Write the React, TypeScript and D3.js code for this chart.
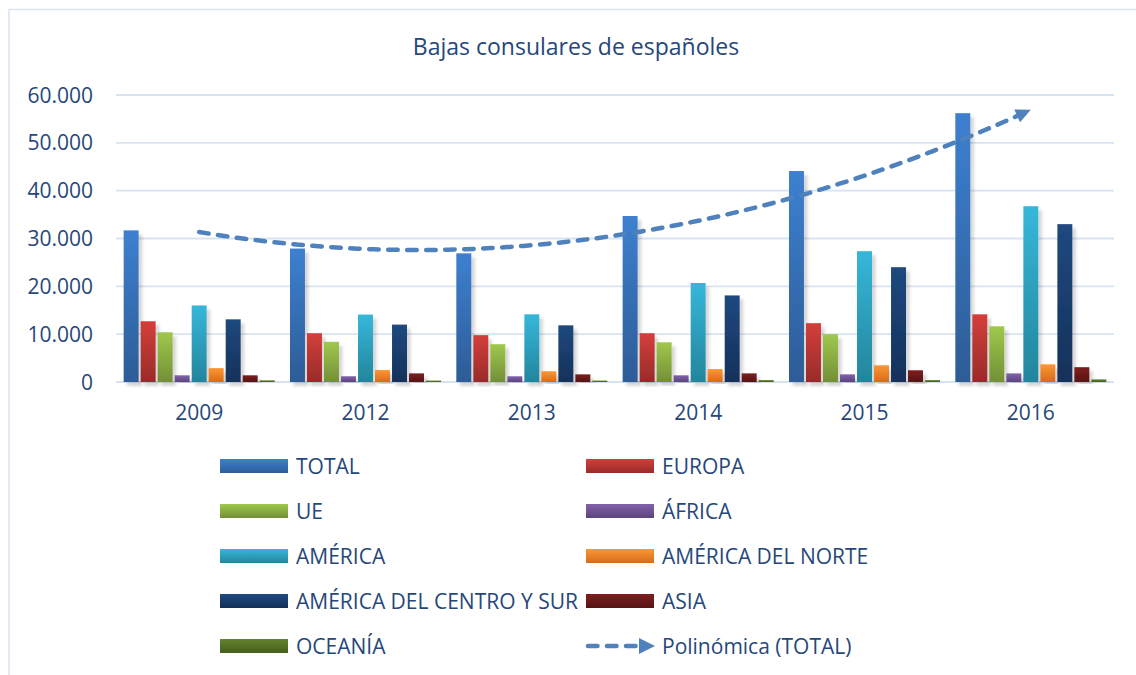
import React from 'react';
import * as d3 from 'd3';

const years = ['2009', '2012', '2013', '2014', '2015', '2016'];
const seriesNames = ['TOTAL', 'EUROPA', 'UE', 'ÁFRICA', 'AMÉRICA', 'AMÉRICA DEL NORTE', 'AMÉRICA DEL CENTRO Y SUR', 'ASIA', 'OCEANÍA'];

const total = [31700, 27900, 26900, 34700, 44100, 56200];
const europa = [12700, 10200, 9800, 10200, 12300, 14150];
const ue = [10400, 8400, 7900, 8300, 10000, 11650];
const africa = [1400, 1200, 1200, 1400, 1600, 1800];
const america = [16000, 14100, 14150, 20700, 27350, 36750];
const americaNorte = [2900, 2500, 2250, 2700, 3500, 3700];
const americaCentroSur = [13100, 12000, 11850, 18100, 24000, 33000];
const asia = [1400, 1800, 1600, 1800, 2450, 3100];
const oceania = [350, 300, 300, 400, 400, 550];

const yTicks = [0, 10000, 20000, 30000, 40000, 50000, 60000];

const values = [total, europa, ue, africa, america, americaNorte, americaCentroSur, asia, oceania];

// gradient top / bottom colours for each series
const colors = [
  ['#3d80d0', '#2d5c96'],
  ['#d33f3b', '#992b29'],
  ['#a0c84c', '#738f37'],
  ['#8262ac', '#5c447c'],
  ['#36b7da', '#23859c'],
  ['#fd9633', '#d46d1c'],
  ['#20497f', '#13315a'],
  ['#7e1f1f', '#571313'],
  ['#63852c', '#465f1e'],
];

const textColor = '#26477a';
const font = '"Open Sans", sans-serif';
const trendColor = '#4f81bd';

// least squares 2nd order polynomial (Excel "Polinómica" trendline)
function polyFit(ys: number[]) {
  const xs = ys.map((_, i) => i + 1);
  const s = (p: number) => d3.sum(xs, (x) => Math.pow(x, p));
  const t = (p: number) => d3.sum(xs, (x, i) => Math.pow(x, p) * ys[i]);
  const A = [
    [s(4), s(3), s(2), t(2)],
    [s(3), s(2), s(1), t(1)],
    [s(2), s(1), xs.length, t(0)],
  ];
  for (let i = 0; i < 3; i++) {
    for (let k = i + 1; k < 3; k++) {
      const f = A[k][i] / A[i][i];
      for (let j = i; j < 4; j++) A[k][j] -= f * A[i][j];
    }
  }
  const c = [0, 0, 0];
  for (let i = 2; i >= 0; i--) {
    let v = A[i][3];
    for (let j = i + 1; j < 3; j++) v -= A[i][j] * c[j];
    c[i] = v / A[i][i];
  }
  return (x: number) => c[0] * x * x + c[1] * x + c[2];
}

const App = () => {
  const width = 1136;
  const height = 675;
  const left = 116;
  const right = 1114;
  const top = 95;
  const bottom = 382;

  const x = d3.scaleBand().domain(years).range([left, right]).padding(0);
  const inner = d3
    .scaleBand()
    .domain(seriesNames)
    .range([0, x.bandwidth()])
    .paddingInner(0.12)
    .paddingOuter(0.45);
  const y = d3.scaleLinear().domain([0, 60000]).range([bottom, top]);
  const fmt = (v: number) => d3.format(',')(v).replace(/,/g, '.');

  const fit = polyFit(total);
  const trendPts = d3.range(1, 6.0001, 0.05).map((t) => {
    const cx = x(years[0])! + x.bandwidth() / 2 + (t - 1) * x.step();
    return [cx, y(fit(t))] as [number, number];
  });
  const line = d3.line().curve(d3.curveMonotoneX);
  // stop the dashed line short of the arrow tip
  const tip = trendPts[trendPts.length - 1];
  const prev = trendPts[trendPts.length - 4];
  const ang = Math.atan2(tip[1] - prev[1], tip[0] - prev[0]);
  const lineEnd: [number, number] = [tip[0] - 12 * Math.cos(ang), tip[1] - 12 * Math.sin(ang)];
  const trendLinePts = trendPts.filter((p) => p[0] < lineEnd[0]).concat([lineEnd]);
  const arrow = (tx: number, ty: number, a: number, len = 15, w = 7) => {
    const bx = tx - len * Math.cos(a);
    const by = ty - len * Math.sin(a);
    const px = -Math.sin(a) * w;
    const py = Math.cos(a) * w;
    return `M${tx},${ty}L${bx + px},${by + py}L${bx - px},${by - py}Z`;
  };

  const legendRows = [466, 511, 556, 601, 646];
  const legendCols = [220, 586];

  return (
    <svg
      width={width}
      height={height}
      style={{ position: 'absolute', left: 0, top: 0, background: '#fff' }}
    >
      <defs>
        {colors.map((c, i) => (
          <linearGradient key={i} id={`g${i}`} x1="0" y1="0" x2="0" y2="1">
            <stop offset="0" stopColor={c[0]} />
            <stop offset="1" stopColor={c[1]} />
          </linearGradient>
        ))}
        <filter id="shadow" x="-50%" y="-10%" width="200%" height="120%">
          <feDropShadow dx="3.5" dy="4" stdDeviation="1.8" floodColor="#000" floodOpacity="0.16" />
        </filter>
      </defs>

      <path d={`M9,${height}V9.5H${width}`} fill="none" stroke="#d9e3f1" strokeWidth={1.5} />

      <text x={576} y={55} textAnchor="middle" fill={textColor} fontFamily={font} fontSize={23}>
        Bajas consulares de españoles
      </text>

      {yTicks.map((t) => (
        <g key={t}>
          <line x1={left} x2={right} y1={y(t)} y2={y(t)} stroke="#d8e3f2" strokeWidth={1.8} />
          <text
            x={93}
            y={y(t)}
            dy="0.36em"
            textAnchor="end"
            fill={textColor}
            fontFamily={font}
            fontSize={21}
          >
            {fmt(t)}
          </text>
        </g>
      ))}

      {years.map((yr, yi) => (
        <g key={yr} transform={`translate(${x(yr)},0)`}>
          {seriesNames.map((s, si) => (
            <rect
              key={s}
              x={inner(s)}
              y={y(values[si][yi])}
              width={inner.bandwidth()}
              height={bottom - y(values[si][yi])}
              fill={`url(#g${si})`}
              filter="url(#shadow)"
            />
          ))}
          <text
            x={x.bandwidth() / 2}
            y={420}
            textAnchor="middle"
            fill={textColor}
            fontFamily={font}
            fontSize={21}
          >
            {yr}
          </text>
        </g>
      ))}

      <path
        d={line(trendLinePts) || ''}
        fill="none"
        stroke={trendColor}
        strokeWidth={4.5}
        strokeDasharray="9.5 9.5"
        strokeLinecap="round"
      />
      <path d={arrow(tip[0], tip[1], ang)} fill={trendColor} />

      {seriesNames.map((s, i) => {
        const cx = legendCols[i % 2];
        const cy = legendRows[Math.floor(i / 2)];
        return (
          <g key={s}>
            <rect x={cx} y={cy - 7} width={68} height={14} fill={`url(#g${i})`} />
            <text x={cx + 76} y={cy} dy="0.36em" fill={textColor} fontFamily={font} fontSize={21}>
              {s}
            </text>
          </g>
        );
      })}
      <g>
        <line
          x1={legendCols[1] + 2}
          x2={legendCols[1] + 54}
          y1={legendRows[4]}
          y2={legendRows[4]}
          stroke={trendColor}
          strokeWidth={4.5}
          strokeDasharray="9.5 9.5"
          strokeLinecap="round"
        />
        <path d={arrow(legendCols[1] + 69, legendRows[4], 0, 16, 8)} fill={trendColor} />
        <text
          x={legendCols[1] + 76}
          y={legendRows[4]}
          dy="0.36em"
          fill={textColor}
          fontFamily={font}
          fontSize={21}
        >
          Polinómica (TOTAL)
        </text>
      </g>
    </svg>
  );
};

export default App;
